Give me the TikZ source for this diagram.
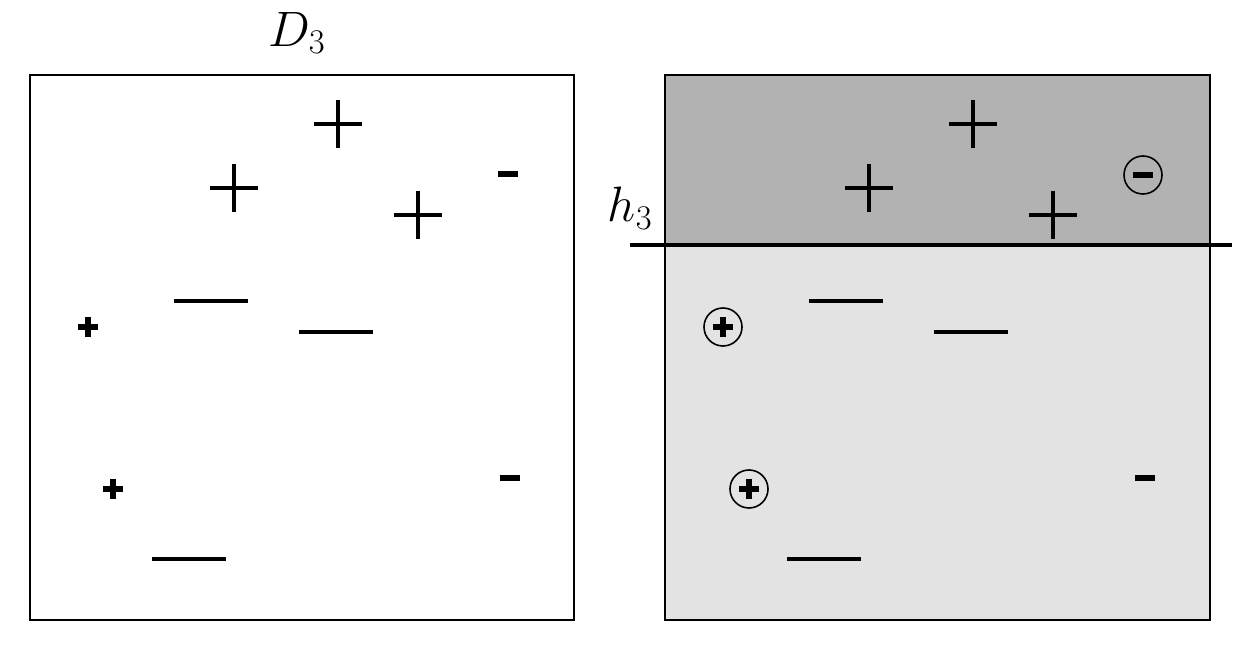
\documentclass[tikz,border=0pt]{standalone}
\tikzset{panel/.style={draw, line width=1pt},
  bigsign/.style={line width=2.3pt},
  smallsign/.style={line width=2.6pt},
  ring/.style={line width=0.8pt},
  lbl/.style={font=\fontsize{27}{30}\selectfont, inner sep=0pt}}

\begin{document}
\begin{tikzpicture}[x=0.5pt,y=-0.5pt] % one unit = one pixel of the reference
\useasboundingbox (0,0) rectangle (1250,668);
\pgfmathsetmacro\S{635}

% shaded halves of the right panel
\fill[black!11] (665,245) rectangle (1210,620);
\fill[black!30] (665,75) rectangle (1210,245);
\draw[panel] (30,75) rectangle (574,620);
\draw[panel] (665,75) rectangle (1210,620);
\coordinate (hl) at (630,245);
\coordinate (hr) at (1232,245);
\draw[line width=2pt] (hl) -- (hr);

\node[lbl] (D3) at (297,33) {$D_3$};
\node[lbl, anchor=east] (h3) at (653,208) {$h_3$};

\foreach \d in {0,\S}
{
    \foreach \x/\y in {338/124, 234/188, 418/215}
        \draw[bigsign] (\x+\d-24,\y) -- ++(48,0) (\x+\d,\y-24) -- ++(0,48);
    \foreach \x/\y in {211/301, 336/332, 189/559}
        \draw[bigsign] (\x+\d-37,\y) -- ++(74,0);
    \draw[smallsign] (\d+500,478) -- ++(20,0);
}

% small signs on the left
\foreach \x/\y in {88/327, 113/489}
    \draw[smallsign] (\x-10,\y) -- ++(20,0) (\x,\y-10) -- ++(0,20);
\draw[smallsign] (498,174) -- ++(20,0);

% circled signs on the right
\foreach \x/\y in {723/327, 749/489}
{
    \draw[ring] (\x,\y) circle (19);
    \draw[smallsign] (\x-10,\y) -- ++(20,0) (\x,\y-10) -- ++(0,20);
}
\draw[ring] (1143,175) circle (19);
\draw[smallsign] (1133,175) -- ++(20,0);
\end{tikzpicture}
\end{document}
